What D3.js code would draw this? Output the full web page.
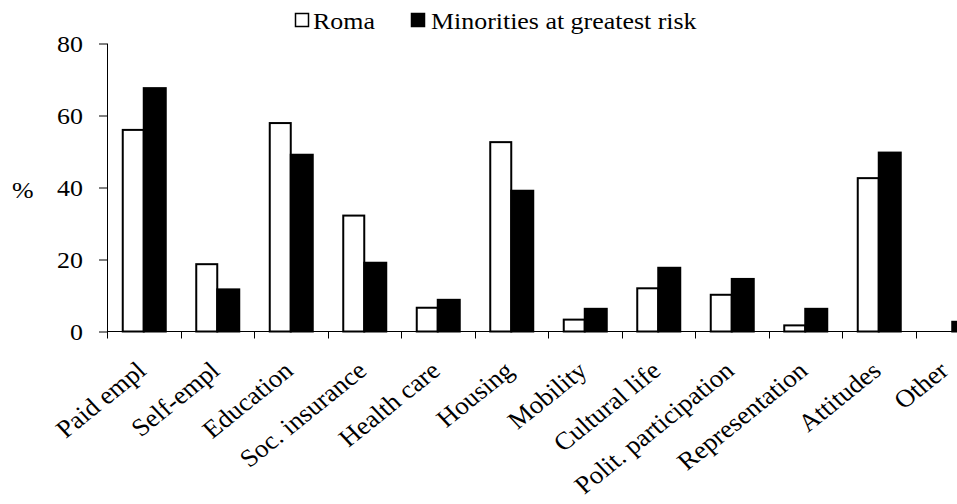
<!DOCTYPE html>
<html><head><meta charset="utf-8">
<script src="https://cdn.jsdelivr.net/npm/d3@7"></script>
<style>
body{margin:0;background:#fff}
svg{display:block}
text{font-family:"Liberation Serif","Times New Roman",serif;fill:#000}
</style>
</head><body>
<svg id="c" width="957" height="504"></svg>
<script>
const categories = ["Paid empl","Self-empl","Education","Soc. insurance","Health care","Housing","Mobility","Cultural life","Polit. participation","Representation","Attitudes","Other"];
const seriesNames = ["Roma","Minorities at greatest risk"];
const roma = [56.0,18.7,57.9,32.2,6.6,52.6,3.3,12.0,10.2,1.7,42.6,0];
const minorities = [67.6,11.7,49.1,19.1,8.8,39.1,6.3,17.7,14.6,6.3,49.7,2.7];
const yTicks = [0,20,40,60,80];
const yLabel = "%";

const FS = 24, LFS = 25, SX = 1.08, ANG = -41;
const seriesFill = ["#fff","#000"];
const svg = d3.select("#c");
svg.append("rect").attr("width",957).attr("height",504).attr("fill","#fff");

const x = d3.scaleBand().domain(categories).range([107, 989]).padding(0);
const y = d3.scaleLinear().domain([0,80]).range([331.5, 43.5]);
const x1 = d3.scaleBand().domain(seriesNames).range([0, x.bandwidth()]).paddingInner(0).paddingOuter((x.bandwidth()-44)/2/22);

const rows = categories.map((c,i)=>({c, vals:[roma[i], minorities[i]]}));

// bars
const g = svg.append("g");
rows.forEach(r=>{
  r.vals.forEach((v,si)=>{
    if(v<=0) return;
    const bx = x(r.c) + x1(seriesNames[si]);
    g.append("rect")
      .attr("x", bx + (si===0?1:0))
      .attr("y", y(v))
      .attr("width", x1.bandwidth() - (si===0?1:0))
      .attr("height", y(0)-y(v))
      .attr("fill", seriesFill[si])
      .attr("stroke","#000").attr("stroke-width",2);
  });
});

// y axis
const ya = svg.append("g").attr("transform","translate(107,0)")
  .call(d3.axisLeft(y).tickValues(yTicks).tickSize(8).tickSizeOuter(0).tickFormat(d3.format("d")));
ya.attr("font-family",null).attr("font-size",null);
ya.select(".domain").remove();
ya.selectAll(".tick line").attr("stroke","#000");
ya.selectAll(".tick text").attr("x",0).attr("dy","0.34em")
  .attr("transform","translate(-24,0) scale("+SX+",1)")
  .style("font-size",FS+"px");
svg.append("line").attr("x1",107.5).attr("x2",107.5).attr("y1",y(80)).attr("y2",y(0)+7).attr("stroke","#000");

// x axis
svg.append("line").attr("x1",107).attr("x2",989).attr("y1",y(0)).attr("y2",y(0)).attr("stroke","#000");
const bounds = categories.map(c=>x(c)).concat([x.range()[1]]);
svg.append("g").selectAll("line").data(bounds.slice(1)).join("line")
  .attr("x1",d=>Math.round(d)+0.5).attr("x2",d=>Math.round(d)+0.5)
  .attr("y1",y(0)).attr("y2",y(0)+7).attr("stroke","#000");

// category labels
svg.append("g").selectAll("text").data(categories).join("text")
  .attr("text-anchor","end")
  .attr("transform",d=>`translate(${Math.min(x(d)+x.bandwidth()/2+4, 950)},373) scale(${SX},1) rotate(${ANG})`)
  .style("font-size",LFS+"px")
  .text(d=>d);

// y label
svg.append("text").attr("transform","translate(12,198) scale("+SX+",1)")
  .style("font-size",FS+"px").text(yLabel);

// legend
const legX = [295, 411], legT = [313, 431];
seriesNames.forEach((s,i)=>{
  svg.append("rect").attr("x",legX[i]+0.5).attr("y",13.5).attr("width",13).attr("height",13)
    .attr("fill",seriesFill[i]).attr("stroke","#000").attr("stroke-width",1.5);
  svg.append("text").attr("transform",`translate(${legT[i]},29) scale(${SX},1)`)
    .style("font-size",FS+"px").text(s);
});
</script>
</body></html>
